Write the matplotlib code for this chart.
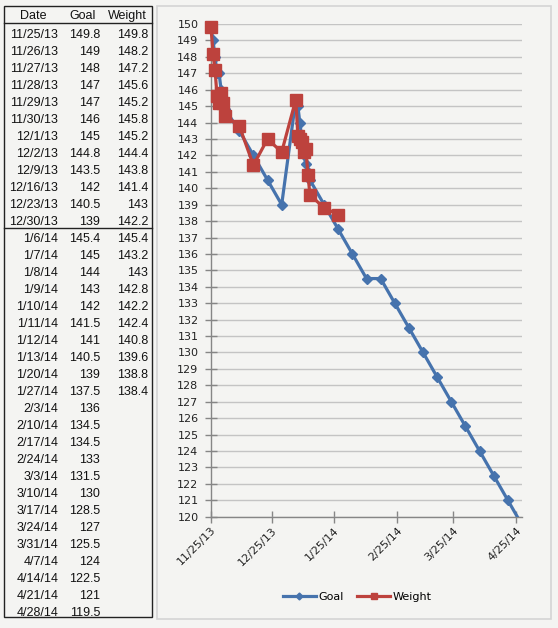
import matplotlib
matplotlib.use("Agg")
import matplotlib.pyplot as plt
import matplotlib.dates as mdates
from matplotlib.lines import Line2D
from matplotlib.patches import Rectangle
from matplotlib.ticker import FuncFormatter
from datetime import datetime

# spreadsheet data (left table) -- goal runs to the end, weight stops at 1/27/14
dates = ["11/25/13", "11/26/13", "11/27/13", "11/28/13", "11/29/13", "11/30/13",
         "12/1/13", "12/2/13", "12/9/13", "12/16/13", "12/23/13", "12/30/13",
         "1/6/14", "1/7/14", "1/8/14", "1/9/14", "1/10/14", "1/11/14", "1/12/14",
         "1/13/14", "1/20/14", "1/27/14", "2/3/14", "2/10/14", "2/17/14",
         "2/24/14", "3/3/14", "3/10/14", "3/17/14", "3/24/14", "3/31/14",
         "4/7/14", "4/14/14", "4/21/14", "4/28/14"]
goal = [149.8, 149, 148, 147, 147, 146, 145, 144.8, 143.5, 142, 140.5, 139,
        145.4, 145, 144, 143, 142, 141.5, 141, 140.5, 139, 137.5, 136, 134.5,
        134.5, 133, 131.5, 130, 128.5, 127, 125.5, 124, 122.5, 121, 119.5]
weight = [149.8, 148.2, 147.2, 145.6, 145.2, 145.8, 145.2, 144.4, 143.8, 141.4,
          143, 142.2, 145.4, 143.2, 143, 142.8, 142.2, 142.4, 140.8, 139.6,
          138.8, 138.4]
tick_dates = ["11/25/13", "12/25/13", "1/25/14", "2/25/14", "3/25/14", "4/25/14"]

BG = "#f4f4f2"
BLUE = "#4673ad"
RED = "#bd423d"
W, H = 558, 628


def todate(s):
    return mdates.date2num(datetime.strptime(s, "%m/%d/%y"))


def fmt(s):
    # number shown in the table: drop trailing .0
    return ("%g" % s)


fig = plt.figure(figsize=(W / 100, H / 100), dpi=100, facecolor=BG)

# background layer in pixel coordinates: table + chart frame
bg = fig.add_axes([0, 0, 1, 1], zorder=0)
bg.set_xlim(0, W)
bg.set_ylim(H, 0)
bg.axis("off")

tfont = dict(fontsize=9, family="Liberation Sans", color="#111111")
bg.add_patch(Rectangle((4, 6), 147.7, 611, fill=False, ec="#222222", lw=1))
bg.plot([4, 151.7], [22.7, 22.7], color="#222222", lw=1)
bg.plot([4, 151.7], [227.7, 227.7], color="#222222", lw=1)
bg.text(33.5, 19, "Date", ha="center", va="baseline", **tfont)
bg.text(82.5, 19, "Goal", ha="center", va="baseline", **tfont)
bg.text(127, 19, "Weight", ha="center", va="baseline", **tfont)
for i, d in enumerate(dates):
    yb = 33.3 + 17 * i + 4.5
    bg.text(58.3, yb, d, ha="right", va="baseline", **tfont)
    bg.text(100, yb, fmt(goal[i]), ha="right", va="baseline", **tfont)
    if i < len(weight):
        bg.text(148.3, yb, fmt(weight[i]), ha="right", va="baseline", **tfont)

bg.add_patch(Rectangle((157, 6), 394, 613, fill=False, ec="#d4d4d4", lw=1.2))

# the chart
ax = fig.add_axes([211 / W, 1 - 516.7 / H, (522 - 211) / W, (516.7 - 24) / H],
                  zorder=1)
ax.patch.set_alpha(0)

gx = [todate(d) for d in dates]
wx = gx[:len(weight)]

ax.plot(gx, goal, color=BLUE, lw=2.3, marker="D", ms=5.2, mec=BLUE,
        zorder=3, label="Goal")
ax.plot(wx, weight, color=RED, lw=2.3, marker="s", ms=8.6, mec=RED,
        zorder=4, clip_on=False, label="Weight")

ax.set_xlim(todate("11/25/13"), todate("4/28/14"))
ax.set_ylim(120, 150)
ax.set_yticks(range(120, 151))
ax.set_xticks([todate(d) for d in tick_dates])
ax.xaxis.set_major_formatter(FuncFormatter(
    lambda v, p: "%d/%d/%02d" % (mdates.num2date(v).month,
                                 mdates.num2date(v).day,
                                 mdates.num2date(v).year % 100)))

ax.yaxis.grid(True, color="#c4c4c4", lw=1)
ax.set_axisbelow(True)
for s in ["top", "right"]:
    ax.spines[s].set_visible(False)
for s in ["left", "bottom"]:
    ax.spines[s].set_color("#868686")
    ax.spines[s].set_linewidth(1)

ax.tick_params(axis="y", direction="inout", length=8, width=1, color="#868686",
               labelsize=8, labelcolor="#222222", pad=5)
ax.tick_params(axis="x", direction="inout", length=8, width=1, color="#868686",
               labelsize=8, labelcolor="#222222", pad=2)
for lab in ax.get_xticklabels():
    lab.set_rotation(45)
    lab.set_ha("right")
    lab.set_va("top")
    lab.set_rotation_mode("anchor")

handles = [Line2D([], [], color=BLUE, lw=2.3, marker="D", ms=3.5),
           Line2D([], [], color=RED, lw=2.3, marker="s", ms=4.5)]
fig.legend(handles, ["Goal", "Weight"], loc="center", ncol=2,
           bbox_to_anchor=(357 / W, 1 - 596.7 / H), frameon=False,
           fontsize=8, handlelength=3, handletextpad=0.2, columnspacing=1.2)

fig.savefig("out.png", dpi=100, facecolor=BG)
